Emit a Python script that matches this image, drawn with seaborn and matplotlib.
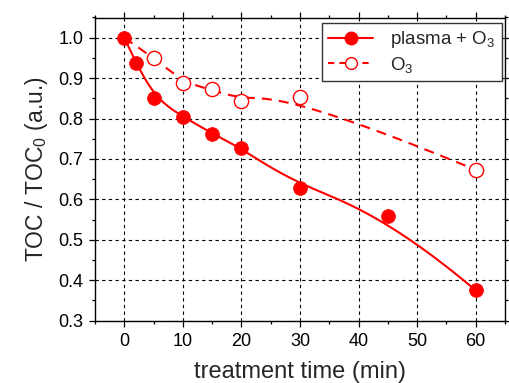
"""
TOC removal vs treatment time: plasma + O3 against O3 alone.
Origin-style figure: smoothed B-spline connecting lines, dashed grid.
"""

import matplotlib
matplotlib.use("Agg")
import matplotlib.pyplot as plt
import numpy as np
import pandas as pd
import seaborn as sns
from matplotlib.lines import Line2D
from matplotlib.ticker import MultipleLocator

# ── data ────────────────────────────────────────────────────────────────────
time_plasma = [0, 2, 5, 10, 15, 20, 30, 45, 60]
toc_plasma = [1.0, 0.938, 0.851, 0.805, 0.763, 0.727, 0.629, 0.558, 0.375]

time_o3 = [0, 5, 10, 15, 20, 30, 60]
toc_o3 = [1.0, 0.951, 0.887, 0.873, 0.844, 0.853, 0.673]

x_ticks = [0, 10, 20, 30, 40, 50, 60]
y_ticks = [0.3, 0.4, 0.5, 0.6, 0.7, 0.8, 0.9, 1.0]

RED = "#ff0000"


def bspline(xs, ys, n=300, k=3):
    """Clamped uniform B-spline through control points (Origin 'B-Spline' line)."""
    pts = np.column_stack([xs, ys]).astype(float)
    m = len(pts)
    inner = np.linspace(0, 1, m - k + 1)
    knots = np.concatenate([np.zeros(k), inner, np.ones(k)])
    t = np.linspace(0, 1 - 1e-9, n)
    # Cox–de Boor recursion
    B = np.array([(knots[i] <= t) & (t < knots[i + 1]) for i in range(len(knots) - 1)],
                 dtype=float)
    for d in range(1, k + 1):
        Bn = np.zeros((len(knots) - 1 - d, n))
        for i in range(len(knots) - 1 - d):
            a = knots[i + d] - knots[i]
            b = knots[i + d + 1] - knots[i + 1]
            left = (t - knots[i]) / a * B[i] if a > 0 else 0
            right = (knots[i + d + 1] - t) / b * B[i + 1] if b > 0 else 0
            Bn[i] = left + right
        B = Bn
    curve = B.T @ pts
    curve = np.vstack([curve, pts[-1]])
    return pd.DataFrame({"time": curve[:, 0], "toc": curve[:, 1]})


sns.set_style("ticks")
plt.rcParams["font.family"] = ["Liberation Sans", "DejaVu Sans"]
plt.rcParams["mathtext.fontset"] = "custom"
plt.rcParams["mathtext.rm"] = "Liberation Sans"
plt.rcParams["mathtext.default"] = "regular"

fig = plt.figure(figsize=(5.09, 3.83), dpi=100)
ax = fig.add_axes([95 / 509, 1 - 320.7 / 383, 410 / 509, 303.2 / 383])

df_p = pd.DataFrame({"time": time_plasma, "toc": toc_plasma})
df_o = pd.DataFrame({"time": time_o3, "toc": toc_o3})

sns.lineplot(data=bspline(time_o3, toc_o3), x="time", y="toc", sort=False,
             estimator=None, color=RED, lw=1.5, ax=ax, zorder=3)
ax.lines[-1].set_linestyle((0, (4.8, 3.4)))
sns.lineplot(data=bspline(time_plasma, toc_plasma), x="time", y="toc", sort=False,
             estimator=None, color=RED, lw=1.5, ax=ax, zorder=3)

# open circles of O3 (the t=0 one hides under the filled marker)
sns.scatterplot(data=df_o.iloc[1:], x="time", y="toc", s=105, marker="o",
                ax=ax, zorder=4)
ax.collections[-1].set_facecolor("white")
ax.collections[-1].set_edgecolor(RED)
ax.collections[-1].set_linewidth(1.0)
sns.scatterplot(data=df_p, x="time", y="toc", s=100, marker="o", ax=ax, zorder=5)
ax.collections[-1].set_facecolor(RED)
ax.collections[-1].set_edgecolor(RED)
ax.collections[-1].set_linewidth(0.5)

ax.set_xlim(-5, 65)
ax.set_ylim(0.3, 1.05)
ax.set_xticks(x_ticks)
ax.set_yticks(y_ticks)
ax.set_yticklabels([f"{v:.1f}" for v in y_ticks])
ax.xaxis.set_minor_locator(MultipleLocator(5))
ax.yaxis.set_minor_locator(MultipleLocator(0.05))
ax.tick_params(which="both", direction="out", top=True, right=True,
               labelsize=13, width=0.9, colors="black")
ax.tick_params(which="major", length=4.5, pad=4)
ax.tick_params(which="minor", length=2.5)
for s in ax.spines.values():
    s.set_visible(True)
    s.set_linewidth(1.0)
    s.set_color("black")

ax.grid(True, which="major", color="black", linestyle=(0, (3, 3)), linewidth=0.8)
ax.set_axisbelow(True)

ax.set_xlabel("treatment time (min)", fontsize=17, labelpad=8)
ax.set_ylabel("TOC / TOC$_0$ (a.u.)", fontsize=16.5, labelpad=6)

handles = [
    Line2D([], [], color=RED, lw=1.5, marker="o", markersize=9,
           markerfacecolor=RED, markeredgecolor=RED),
    Line2D([], [], color=RED, lw=1.5, linestyle=(0, (3, 2.5)), marker="o",
           markersize=8.5, markerfacecolor="white", markeredgecolor=RED,
           markeredgewidth=1.0),
]
leg = ax.legend(handles, ["plasma + O$_3$", "O$_3$"], loc="upper right",
                bbox_to_anchor=(1 - 3 / 410, 1 - 5 / 303), borderaxespad=0,
                fontsize=13.5, frameon=True, fancybox=False, framealpha=1,
                handlelength=2.4, handletextpad=0.9, labelspacing=0.25,
                borderpad=0.35)
leg.get_frame().set_edgecolor("#333333")
leg.get_frame().set_linewidth(1.0)

fig.savefig("out.png", dpi=100)
